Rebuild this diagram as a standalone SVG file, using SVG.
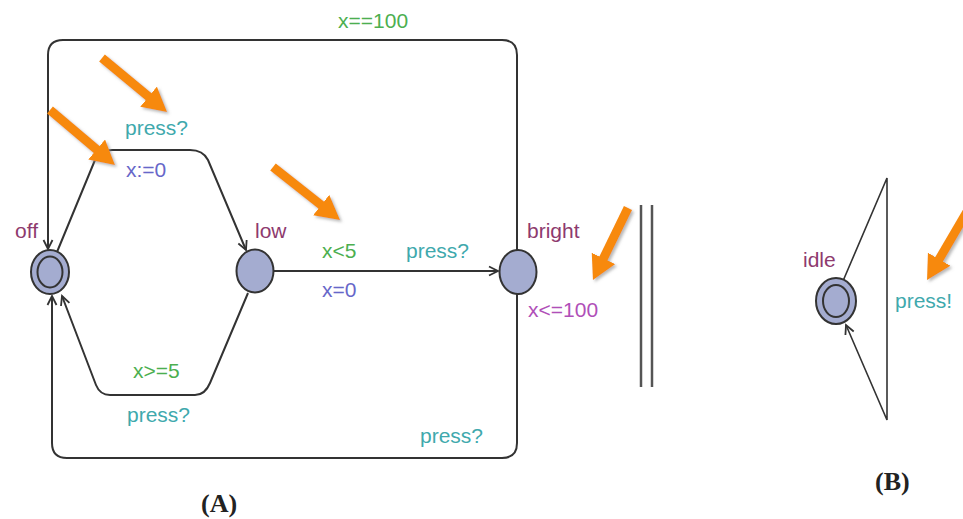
<svg xmlns="http://www.w3.org/2000/svg" width="963" height="519" viewBox="0 0 963 519">
<style>
text{font-family:"Liberation Sans",Arial,sans-serif;font-size:21px}
.g{fill:#4caf50}.t{fill:#3fa9ad}.b{fill:#6767c9}.m{fill:#8e3a6e}.p{fill:#b04fb8}
.lbl{font-family:"Liberation Serif","Times New Roman",serif;font-size:26px;font-weight:bold;fill:#222}
.edge{fill:none;stroke:#333;stroke-width:2;marker-end:url(#ah)}
.node{fill:#a4acd0;stroke:#333;stroke-width:2}
.inner{fill:none;stroke:#333;stroke-width:2}
.oa{stroke:#f7890b;stroke-width:9;marker-end:url(#oh);filter:url(#sh)}
.par{stroke:#555;stroke-width:2.5}
</style>
<defs>
<marker id="ah" markerUnits="userSpaceOnUse" markerWidth="14" markerHeight="12" viewBox="-11 -6 12 12" refX="0" refY="0" orient="auto">
<path d="M-9,-4.5 L0,0 L-9,4.5" fill="none" stroke="#333" stroke-width="1.8"/>
</marker>
<marker id="oh" markerUnits="userSpaceOnUse" markerWidth="24" markerHeight="26" viewBox="0 0 24 26" refX="12" refY="13" orient="auto">
<path d="M0,0 L24,13 L0,26 z" fill="#f7890b"/>
</marker>
<filter id="sh" x="-30%" y="-30%" width="160%" height="160%">
<feDropShadow dx="2" dy="2" stdDeviation="1.5" flood-color="#888" flood-opacity="0.6"/>
</filter>
</defs>

<g id="connectors">
<path class="edge" d="M517,250 L517,55 Q517,40 502,40 L63,40 Q48,40 48,55 L48,249"/>
<path class="edge" d="M57,252 L95,160 Q100,150 112,150 L190,150 Q203,150 208,160 L246,250"/>
<path class="edge" d="M248,293 L210,383 Q205,395 195,395 L110,395 Q100,395 96,385 L62,296"/>
<path class="edge" d="M517,294 L517,443 Q517,458 502,458 L67,458 Q52,458 52,443 L52,296"/>
<path class="edge" d="M274,271 L498,271"/>
<path class="edge" d="M843,281 L887,178 L887,420 L846,325" style="stroke-width:1.6"/>
</g>

<g id="off">
<ellipse class="node" cx="50" cy="272" rx="19" ry="22"/>
<ellipse class="inner" cx="50" cy="272" rx="12.5" ry="15.5"/>
<text class="m" x="15" y="238">off</text>
</g>
<g id="low">
<ellipse class="node" cx="255" cy="271" rx="18.5" ry="21.5"/>
<text class="m" x="255" y="238">low</text>
</g>
<g id="bright">
<ellipse class="node" cx="518" cy="272" rx="18.5" ry="22"/>
<text class="m" x="527" y="238">bright</text>
<text class="p" x="528" y="317">x&lt;=100</text>
</g>
<g id="idle">
<ellipse class="node" cx="836" cy="301" rx="20" ry="23"/>
<ellipse class="inner" cx="836" cy="301" rx="13" ry="16"/>
<text class="m" x="803" y="267">idle</text>
</g>

<g id="edge-labels">
<text class="g" x="338" y="28">x==100</text>
<text class="t" x="125" y="135">press?</text>
<text class="b" x="126" y="177">x:=0</text>
<text class="g" x="322" y="258">x&lt;5</text>
<text class="t" x="406" y="258">press?</text>
<text class="b" x="322" y="297">x=0</text>
<text class="g" x="133" y="378">x&gt;=5</text>
<text class="t" x="127" y="422">press?</text>
<text class="t" x="420" y="443">press?</text>
<text class="t" x="895" y="308">press!</text>
</g>

<g id="parallel">
<line class="par" x1="641" y1="205" x2="641" y2="387"/>
<line class="par" x1="652" y1="205" x2="652" y2="387"/>
</g>

<g id="captions">
<text class="lbl" x="201" y="512">(A)</text>
<text class="lbl" x="875" y="490">(B)</text>
</g>

<g id="orange-arrows">
<line class="oa" x1="102" y1="58" x2="157.8" y2="104.3"/>
<line class="oa" x1="50" y1="110" x2="105.8" y2="157.2"/>
<line class="oa" x1="273" y1="167" x2="330.6" y2="212.5"/>
<line class="oa" x1="628" y1="208" x2="598.2" y2="269.2"/>
<line class="oa" x1="968" y1="210" x2="933.1" y2="269.6"/>
</g>
</svg>
